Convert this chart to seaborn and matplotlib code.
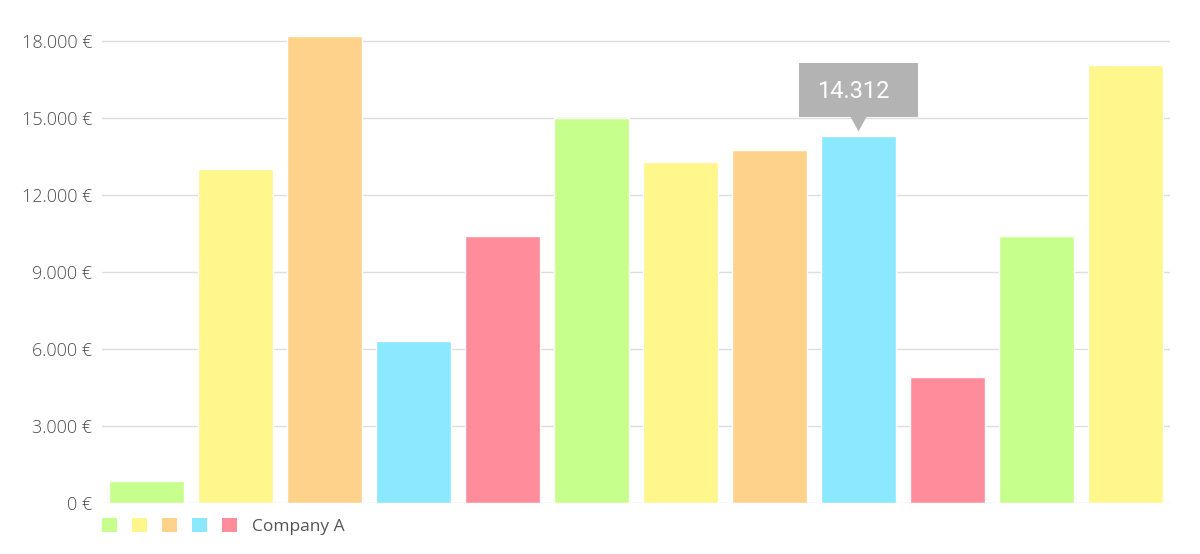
import matplotlib
matplotlib.use("Agg")
import matplotlib.pyplot as plt
import matplotlib.transforms as mtransforms
from matplotlib.patches import Patch, Polygon
from matplotlib.legend_handler import HandlerTuple
from matplotlib.ticker import FuncFormatter, MultipleLocator
import seaborn as sns
import pandas as pd

# data
months = ["1", "2", "3", "4", "5", "6", "7", "8", "9", "10", "11", "12"]
values = [850, 13000, 18200, 6300, 10400, 15000, 13300, 13750, 14312, 4900, 10400, 17050]
bar_colors = ["#c7ff8c", "#fff68c", "#ffd28c", "#8ce8ff", "#ff8c9a"]
series_name = "Company A"
tooltip_idx = 8
tooltip_text = "14.312"

df = pd.DataFrame({"month": months, "value": values})
palette = [bar_colors[i % len(bar_colors)] for i in range(len(months))]

sns.set_style("white")
plt.rcParams["font.family"] = ["Open Sans", "DejaVu Sans"]

fig = plt.figure(figsize=(12, 5.54), dpi=100)
ax = fig.add_axes([0.085, 0.0921, 0.89, 0.8803])

sns.barplot(data=df, x="month", y="value", hue="month", palette=palette,
            legend=False, width=0.85, saturation=1, ax=ax, zorder=2)

ax.set_xlim(-0.5, len(months) - 0.5)
ax.set_ylim(0, 19000)
ax.yaxis.set_major_locator(MultipleLocator(3000))
ax.yaxis.set_major_formatter(FuncFormatter(lambda v, p: f"{int(v):,} €".replace(",", ".")))
ax.grid(axis="y", color="#dddddd", linewidth=1, zorder=0)
ax.set_axisbelow(True)
for s in ax.spines.values():
    s.set_visible(False)
ax.set_xticks([])
ax.set_xlabel("")
ax.set_ylabel("")
ax.tick_params(axis="y", length=0, pad=7, labelsize=13, labelcolor="#4d4d4d")
for lbl in ax.get_yticklabels():
    lbl.set_fontweight("light")

# tooltip above the highlighted bar (shape given in points, anchored at the bar top)
tip_val = values[tooltip_idx]
tip_tr = (mtransforms.Affine2D().scale(fig.dpi / 72)
          + mtransforms.ScaledTranslation(tooltip_idx, tip_val, ax.transData))
box = Polygon([(-43, 13.7), (43, 13.7), (43, 52.6), (-43, 52.6)], closed=True,
              fc="#b3b3b3", ec="none", transform=tip_tr, clip_on=False, zorder=5)
arrow = Polygon([(-6, 14), (6, 14), (0, 3)], closed=True,
                fc="#b3b3b3", ec="none", transform=tip_tr, clip_on=False, zorder=5)
ax.add_patch(box)
ax.add_patch(arrow)
ax.annotate(tooltip_text, xy=(tooltip_idx, tip_val), xytext=(-3.5, 31.5),
            textcoords="offset points", ha="center", va="center",
            fontsize=17, color="white", family="Roboto", zorder=6)

# legend: five colour swatches followed by the series name
handles = tuple(Patch(facecolor=c, edgecolor="none") for c in bar_colors)
fig.legend([handles], [series_name], handler_map={tuple: HandlerTuple(ndivide=None, pad=0.87)},
           loc="center left", bbox_to_anchor=(0.085, 0.049), frameon=False,
           fontsize=12.5, handlelength=7.8, handleheight=0.85, handletextpad=0.85,
           borderpad=0, borderaxespad=0, labelcolor="#555555")

fig.savefig("out.png", dpi=100)
